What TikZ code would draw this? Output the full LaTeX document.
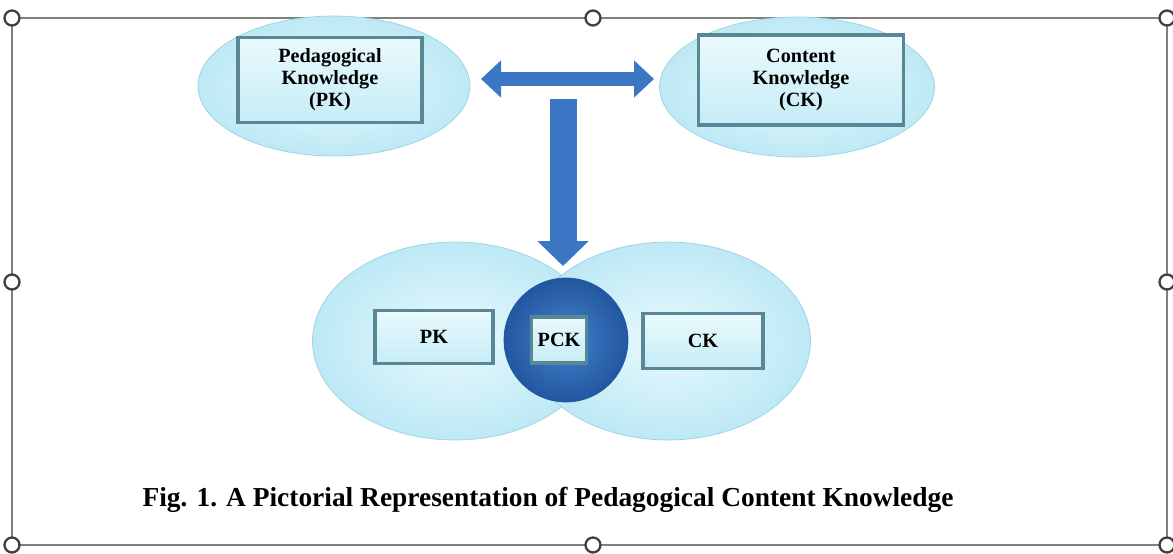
\documentclass[tikz,border=0pt]{standalone}
\usepackage{fontspec}
\setmainfont{Liberation Serif}
\usetikzlibrary{shapes,arrows.meta}
\definecolor{ellin}{HTML}{E9F9FD}
\definecolor{ellout}{HTML}{BDE9F5}
\definecolor{elledge}{HTML}{98D3E4}
\definecolor{boxtop}{HTML}{E9FAFD}
\definecolor{boxbot}{HTML}{C6ECF6}
\definecolor{boxedge}{HTML}{5A8795}
\definecolor{arrowblue}{HTML}{3B77C5}
\definecolor{pckin}{HTML}{4483CD}
\definecolor{pckout}{HTML}{2356A0}
\definecolor{framegray}{HTML}{808080}

\begin{document}
\begin{tikzpicture}[x=0.02cm, y=-0.02cm,
    bubble/.style={ellipse, draw=elledge, thin, inner color=ellin, outer color=ellout, inner sep=0pt},
    knowbox/.style={rectangle, draw=boxedge, line width=2.2pt, top color=boxtop, bottom color=boxbot,
        inner sep=0pt, align=center, font=\bfseries\fontsize{11.5}{12.5}\selectfont},
    bigarrow/.style={arrowblue, line width=#1},
    handle/.style={circle, draw=darkgray, line width=1.3pt, fill=white, minimum size=0.3cm, inner sep=0pt}]
    \useasboundingbox (0,0) rectangle (1173,554);

    % selection frame
    \draw [framegray, line width=1.2pt] (12,18) rectangle (1167,545);
    \foreach \hx/\hy [count=\i] in {12/18, 593/18, 1167/18, 12/282, 1167/282, 12/545, 593/545, 1167/545} {
        \node[handle] (h\i) at (\hx,\hy) {};
    }

    % top: PK and CK
    \node[bubble, minimum width=5.44cm, minimum height=2.8cm] (pkell) at (334,86) {};
    \node[bubble, minimum width=5.5cm, minimum height=2.8cm] (ckell) at (797,87) {};
    \node[knowbox, minimum width=3.68cm, minimum height=1.7cm] (pkbox) at (330,80) {Pedagogical\\Knowledge\\(PK)};
    \node[knowbox, minimum width=4.1cm, minimum height=1.8cm] (ckbox) at (801,80) {Content\\Knowledge\\(CK)};

    % arrows
    \coordinate (hleft) at (481,79);
    \coordinate (hright) at (654,79);
    \coordinate (vtop) at (563,99);
    \coordinate (pinch) at (563,266);
    \draw [bigarrow=0.3cm, {Triangle[width=0.72cm,length=0.4cm]}-{Triangle[width=0.72cm,length=0.4cm]}] (hleft) -- (hright);
    \draw [bigarrow=0.54cm, -{Triangle[width=1.0cm,length=0.5cm]}] (vtop) -- (pinch);

    % bottom: PK, PCK, CK
    \node[bubble, minimum width=5.7cm, minimum height=3.96cm] (pkbig) at (455,341) {};
    \node[bubble, minimum width=5.7cm, minimum height=3.96cm] (ckbig) at (668,341) {};
    \node[circle, draw=pckout, thin, inner color=pckin, outer color=pckout, minimum size=2.48cm] (pckcirc) at (566,340) {};
    \node[knowbox, minimum width=2.36cm, minimum height=1.06cm] (pk) at (434,337) {PK};
    \node[knowbox, minimum width=1.1cm, minimum height=0.92cm] (pck) at (559,340) {PCK};
    \node[knowbox, minimum width=2.4cm, minimum height=1.1cm] (ck) at (703,341) {CK};

    % caption
    \node[font=\bfseries\fontsize{15.6}{17}\selectfont] (caption) at (548,500) {Fig. 1. A Pictorial Representation of Pedagogical Content Knowledge};
\end{tikzpicture}
\end{document}
